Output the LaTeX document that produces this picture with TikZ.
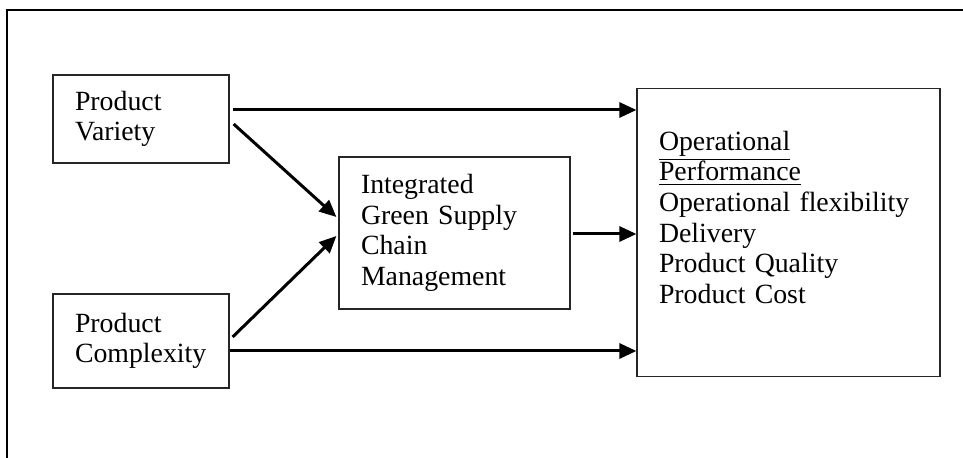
\documentclass[tikz,border=0pt]{standalone}
\usepackage{fontspec}
\setmainfont{Liberation Serif}
\usetikzlibrary{arrows.meta}

\begin{document}
\begin{tikzpicture}[x=0.5pt, y=-0.5pt, >={Triangle[length=8.5pt,width=7.5pt]},
        box/.style={rectangle, draw=black!85, line width=0.6pt, inner xsep=11pt, inner ysep=0pt, align=left, font=\fontsize{13.9pt}{15.3pt}\selectfont},
        link/.style={->, line width=1.5pt}]

        \useasboundingbox (0,0) rectangle (963,458);

        % outer frame (cut off at right and bottom)
        \draw[line width=1pt] (963,10) -- (7,10) -- (7,458);

        \node[box, minimum width=88pt, minimum height=44pt, text width=66pt] (variety) at (141,119) {Product\\Variety};
        \node[box, minimum width=88pt, minimum height=47pt, text width=66pt] (complexity) at (141,341) {Product\\Complexity};

        \node[box, minimum width=115.5pt, minimum height=76pt, text width=93.5pt] (igscm) at (454.5,233) {Integrated\\Green Supply\\Chain\\Management};

        \node[box, minimum width=151.5pt, minimum height=144pt, text width=129.5pt] (perf) at (788.5,232.5) {\underline{Operational}\\\underline{Performance}\\Operational flexibility\\Delivery\\Product Quality\\Product Cost\\\mbox{}};

        \draw[link] ([xshift=1.5pt,yshift=4.5pt]variety.east) coordinate (vtop) -- (vtop -| perf.west);
        \draw[link] ([xshift=2pt,yshift=-2.5pt]variety.east) -- ([xshift=-1pt,yshift=8pt]igscm.west);

        \draw[link] ([xshift=1.5pt,yshift=2pt]complexity.east) -- ([xshift=-1pt,yshift=-1.5pt]igscm.west);
        \draw[link] ([yshift=-5pt]complexity.east) coordinate (cbot) -- (cbot -| perf.west);

        \draw[link] ([xshift=1pt,yshift=-0.5pt]igscm.east) coordinate (mid) -- (mid -| perf.west);

    \end{tikzpicture}
\end{document}
